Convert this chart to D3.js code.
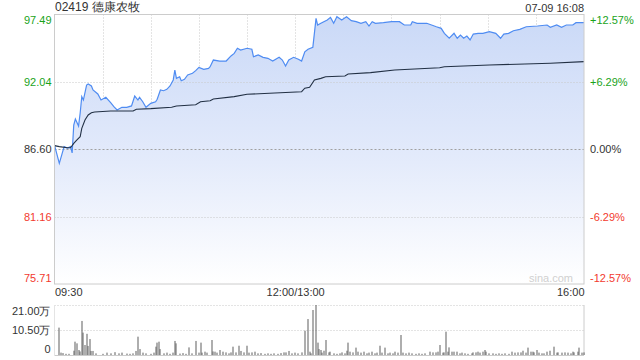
<!DOCTYPE html>
<html>
<head>
<meta charset="utf-8">
<script src="https://cdn.jsdelivr.net/npm/d3@7/dist/d3.min.js"></script>
<style>
  html, body { margin: 0; padding: 0; background: #fff; }
  svg { display: block; font-family: "Liberation Sans", Arial, sans-serif; }
</style>
</head>
<body>
<svg id="chart" width="640" height="360"></svg>
<script>
// ---- data (minutes are trading minutes since 09:30; 150 = 12:00/13:00) ----
const stockTitle = "02419 德康农牧";
const stampText = "07-09 16:08";
const prevClose = 86.60;
const priceTicks = [97.49, 92.04, 86.60, 81.16, 75.71];
const pctTicks = ["+12.57%", "+6.29%", "0.00%", "-6.29%", "-12.57%"];
const timeTickMinutes = [0, 150, 330];
const timeTickLabels = ["09:30", "12:00/13:00", "16:00"];
const volTicks = [21, 10.5, 0];
const volTickLabels = ["21.00万", "10.50万", "0"];

const priceMinute = [0,3,6,8,10,11,12,13,15,16,17,18,20,21,23,24,27,29,32,35,37,39,42,45,48,50,52,53,55,57,60,63,64,66,68,70,72,74,75,76,78,79,81,83,86,88,90,93,96,97,99,103,107,110,112,114,116,120,123,124,127,130,133,136,140,142,144,146,149,152,154,156,158,161,163,164,166,170,172,174,176,179,182,185,188,191,194,196,198,200,205,210,215,218,222,223,226,232,238,241,243,246,249,251,253,255,257,259,261,264,267,271,275,278,280,283,286,290,294,301,307,309,313,316,319,323,325,330];
const priceValue = [86.94,85.46,86.81,86.70,86.81,86.30,88.56,89.04,88.48,89.53,90.85,90.58,91.79,91.87,91.71,91.39,91.07,90.58,90.80,90.36,90.04,89.77,89.99,89.99,90.10,90.90,90.58,90.80,90.44,89.99,90.31,90.44,90.64,91.39,91.33,91.44,91.71,92.20,93.00,92.33,92.46,92.14,92.25,92.60,92.74,92.95,93.22,93.06,93.14,93.27,93.81,93.73,93.73,94.14,94.35,94.76,94.62,94.76,94.68,94.08,94.22,94.03,93.95,93.73,94.03,93.81,93.33,93.81,94.03,93.87,93.73,94.48,94.68,94.84,97.18,96.64,96.78,97.05,97.26,96.78,97.31,97.05,97.31,96.99,96.91,96.78,96.91,96.56,96.91,96.78,96.83,96.91,96.91,96.64,96.64,96.91,96.78,96.78,96.50,96.37,95.97,95.57,95.97,95.57,95.83,95.57,95.75,95.43,95.91,95.97,95.97,96.10,95.97,95.57,95.91,95.97,96.18,96.29,96.50,96.56,96.64,96.46,96.64,96.46,96.64,96.64,96.83,96.83];

const avgMinute = [0,3,8,10,12,14,16,17,19,21,23,25,35,49,51,60,73,76,88,91,97,99,112,120,134,154,156,159,162,166,169,181,183,197,212,240,243,271,309,330];
const avgValue = [86.89,86.81,86.72,86.72,87.08,87.35,87.61,88.29,88.96,89.37,89.55,89.61,89.69,89.69,89.83,89.88,89.99,90.10,90.20,90.44,90.52,90.66,90.85,91.04,91.12,91.25,91.53,91.61,92.20,92.33,92.46,92.52,92.68,92.79,93.00,93.19,93.27,93.41,93.55,93.68];

const volMinute = [3,4,5,7,9,12,13,14,15,16,17,18,19,20,21,22,23,24,26,30,33,35,38,40,42,45,47,49,51,52,53,55,57,60,62,63,64,65,66,68,70,72,74,75,76,78,80,82,84,86,88,90,91,92,94,95,98,99,100,101,103,105,107,109,110,111,113,115,116,118,120,121,123,125,127,129,131,133,135,137,139,141,143,144,146,148,150,152,154,156,158,159,160,161,163,164,165,166,167,168,169,171,172,174,176,178,179,181,182,183,184,186,188,189,191,193,195,196,198,200,201,203,204,206,208,209,211,212,214,216,217,219,221,223,225,227,229,231,234,236,238,239,240,242,243,244,245,246,248,249,251,253,254,256,258,260,261,263,264,265,267,268,269,271,273,275,277,279,281,283,285,287,289,291,292,294,295,297,298,299,301,302,304,305,307,309,311,313,314,316,318,320,322,323,324,326,327,329,330];
const volValue = [11.5,1.0,0.8,0.5,0.5,1.8,5.6,4.9,2.1,1.5,14.3,9.4,4.2,8.9,3.8,6.7,1.7,1.7,0.7,0.5,1.0,0.7,1.2,0.7,1.0,0.6,0.5,0.7,1.7,7.7,2.5,1.0,0.7,0.5,1.0,3.5,5.2,5.6,2.5,0.7,1.0,0.5,1.0,5.9,4.9,0.6,0.8,0.5,3.2,0.7,5.9,1.0,5.2,1.0,1.4,1.0,6.3,1.5,1.4,1.0,2.1,1.4,1.1,0.7,1.1,3.5,1.1,3.9,1.7,1.1,3.9,1.0,1.1,1.4,0.7,0.8,0.5,0.7,0.5,0.7,0.5,0.8,1.1,1.1,1.7,0.7,1.0,0.7,1.1,10.2,15.1,1.4,0.7,18.9,21.0,5.2,2.5,2.1,1.0,1.8,6.3,1.1,1.4,0.7,0.5,0.7,1.1,0.7,1.8,5.2,1.4,1.1,3.1,1.4,1.0,1.4,0.7,1.0,1.4,0.7,1.0,3.9,1.0,3.1,0.7,1.0,0.7,1.4,1.0,8.4,1.0,0.7,1.0,0.7,0.5,0.7,0.5,0.7,1.4,1.1,1.1,1.4,4.2,1.0,1.1,9.8,1.4,3.2,1.4,1.4,1.4,0.7,1.0,0.7,0.5,0.7,1.1,1.1,1.4,1.0,1.4,2.1,1.4,0.7,0.7,0.5,0.7,0.5,0.7,0.5,1.4,1.0,1.1,1.1,1.8,1.0,3.1,1.4,1.4,1.1,2.1,1.0,0.7,0.7,1.4,1.8,3.5,1.0,1.1,1.0,1.1,1.0,0.7,1.4,1.1,1.4,3.1,1.0,1.1];

// ---- layout ----
const L = 54.5, R = 584, T = 14.5, B = 284;
const VT = 305, VB = 355;
const svg = d3.select("#chart");

const x = d3.scaleLinear().domain([0, 330]).range([L, R]);
const y = d3.scaleLinear().domain([75.71, 97.49]).range([B, T]);
const yv = d3.scaleLinear().domain([0, 21]).range([VB, VT]);

const green = "#1aa31a", red = "#f23a2e", grey = "#333";
const colorFor = v => v > prevClose + 1e-6 ? green : (v < prevClose - 1e-6 ? red : grey);

// gradient
const defs = svg.append("defs");
const grad = defs.append("linearGradient").attr("id", "fillGrad")
  .attr("gradientUnits", "userSpaceOnUse").attr("x1", 0).attr("y1", T).attr("x2", 0).attr("y2", B);
grad.append("stop").attr("offset", 0).attr("stop-color", "#cad9f7");
grad.append("stop").attr("offset", 0.55).attr("stop-color", "#e4ebfb");
grad.append("stop").attr("offset", 1).attr("stop-color", "#ffffff");

// vertical grid lines every 30 minutes
const vGrid = d3.range(30, 330, 30);
svg.append("g").selectAll("line").data(vGrid).join("line")
  .attr("x1", d => Math.round(x(d)) + 0.5).attr("x2", d => Math.round(x(d)) + 0.5)
  .attr("y1", T).attr("y2", B)
  .attr("stroke", "#c8c8c8").attr("stroke-dasharray", "1,2");

// area
const pts = priceMinute.map((m, i) => [m, priceValue[i]]);
const area = d3.area().x(d => x(d[0])).y0(B).y1(d => y(d[1]));
svg.append("path").datum(pts).attr("d", area).attr("fill", "url(#fillGrad)");

// horizontal grid lines
svg.append("g").selectAll("line").data([92.04, 81.16]).join("line")
  .attr("x1", L).attr("x2", R).attr("y1", d => Math.round(y(d)) + 0.5).attr("y2", d => Math.round(y(d)) + 0.5)
  .attr("stroke", "#c8c8c8").attr("stroke-dasharray", "1,2");
svg.append("line").attr("x1", L).attr("x2", R)
  .attr("y1", Math.round(y(prevClose)) + 0.5).attr("y2", Math.round(y(prevClose)) + 0.5)
  .attr("stroke", "#a0a0a0").attr("stroke-dasharray", "2,2");

// price line
svg.append("path").datum(pts)
  .attr("d", d3.line().x(d => x(d[0])).y(d => y(d[1])))
  .attr("fill", "none").attr("stroke", "#4f8cf2").attr("stroke-width", 1.2);

// average line
const apts = avgMinute.map((m, i) => [m, avgValue[i]]);
svg.append("path").datum(apts)
  .attr("d", d3.line().x(d => x(d[0])).y(d => y(d[1])))
  .attr("fill", "none").attr("stroke", "#223044").attr("stroke-width", 1.1);

// frame
svg.append("rect").attr("x", L).attr("y", T).attr("width", R - L).attr("height", B - T)
  .attr("fill", "none").attr("stroke", "#cccccc");

// watermark
svg.append("text").attr("x", 573).attr("y", 282).attr("text-anchor", "end")
  .attr("font-size", 11).attr("fill", "#d0d0d0").text("sina.com");

// left price axis
const leftAxis = svg.append("g").attr("transform", `translate(${L - 3},0)`)
  .call(d3.axisLeft(y).tickValues(priceTicks).tickSize(0).tickPadding(0).tickFormat(d3.format(".2f")));
leftAxis.select(".domain").remove();
leftAxis.selectAll("text").attr("font-size", 11).attr("font-family", "Liberation Sans, Arial, sans-serif")
  .attr("fill", d => colorFor(d))
  .attr("dy", (d, i) => i === 0 ? "0.85em" : (i === priceTicks.length - 1 ? "-0.2em" : "0.32em"));

// right pct axis
const rightAxis = svg.append("g").attr("transform", `translate(${R + 6},0)`)
  .call(d3.axisRight(y).tickValues(priceTicks).tickSize(0).tickPadding(0).tickFormat((d, i) => pctTicks[i]));
rightAxis.select(".domain").remove();
rightAxis.selectAll("text").attr("font-size", 11).attr("font-family", "Liberation Sans, Arial, sans-serif")
  .attr("fill", d => colorFor(d))
  .attr("dy", (d, i) => i === 0 ? "0.85em" : (i === priceTicks.length - 1 ? "-0.2em" : "0.32em"));

// time axis
const timeAxis = svg.append("g").attr("transform", `translate(0,${B + 2})`)
  .call(d3.axisBottom(x).tickValues(timeTickMinutes).tickSize(0).tickPadding(0).tickFormat((d, i) => timeTickLabels[i]));
timeAxis.select(".domain").remove();
timeAxis.selectAll("text").attr("font-size", 11).attr("font-family", "Liberation Sans, Arial, sans-serif")
  .attr("fill", "#333").attr("dy", "0.95em")
  .attr("text-anchor", (d, i) => i === 0 ? "start" : (i === timeTickMinutes.length - 1 ? "end" : "middle"));

// title and stamp
svg.append("text").attr("x", 55).attr("y", 11).attr("font-size", 12).attr("fill", "#333").text(stockTitle);
svg.append("text").attr("x", R).attr("y", 12).attr("text-anchor", "end").attr("font-size", 11).attr("fill", "#333").text(stampText);

// ---- volume panel ----
svg.append("g").selectAll("line").data([21, 10.5]).join("line")
  .attr("x1", L).attr("x2", R).attr("y1", d => Math.round(yv(d)) + 0.5).attr("y2", d => Math.round(yv(d)) + 0.5)
  .attr("stroke", "#c8c8c8").attr("stroke-dasharray", "1,2");
svg.append("line").attr("x1", R).attr("x2", R).attr("y1", VT).attr("y2", VB).attr("stroke", "#cccccc");
svg.append("line").attr("x1", L).attr("x2", L).attr("y1", VT).attr("y2", VB).attr("stroke", "#e4e4e4");
svg.append("line").attr("x1", L).attr("x2", R).attr("y1", VB + 0.5).attr("y2", VB + 0.5).attr("stroke", "#cccccc");

svg.append("g").selectAll("rect").data(volMinute.map((m, i) => [m, volValue[i]])).join("rect")
  .attr("x", d => Math.round(x(d[0])) - 0.5).attr("width", 1)
  .attr("y", d => yv(d[1])).attr("height", d => VB - yv(d[1]))
  .attr("fill", "#5e5e5e");

const volAxis = svg.append("g").attr("transform", `translate(${L - 4},0)`)
  .call(d3.axisLeft(yv).tickValues(volTicks).tickSize(0).tickPadding(0).tickFormat((d, i) => volTickLabels[i]));
volAxis.select(".domain").remove();
volAxis.selectAll("text").attr("font-size", 11).attr("font-family", "Liberation Sans, Arial, sans-serif")
  .attr("fill", "#333")
  .attr("dy", (d, i) => i === 0 ? "0.85em" : (i === volTicks.length - 1 ? "-0.25em" : "0.32em"));
</script>
</body>
</html>
